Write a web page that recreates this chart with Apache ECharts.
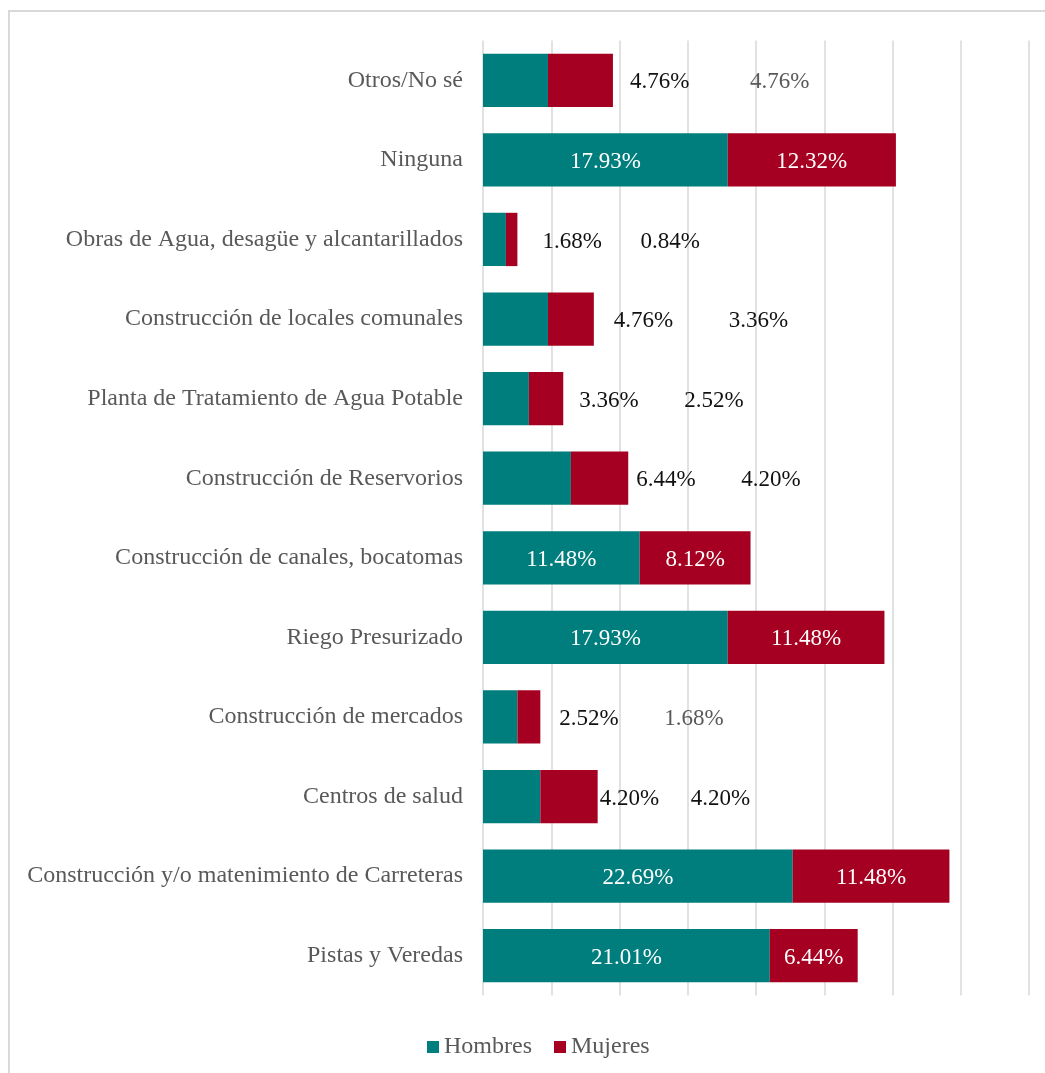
<!DOCTYPE html>
<html>
<head>
<meta charset="utf-8">
<title>Obras priorizadas por sexo</title>
<script src="https://cdn.jsdelivr.net/npm/echarts@6/dist/echarts.min.js"></script>
<style>
  html, body { margin: 0; padding: 0; background: #ffffff; }
  #chart { width: 1045px; height: 1073px; }
</style>
</head>
<body>
<div id="chart"></div>
<script>
// Categories, listed from top to bottom
const categories = [
  'Otros/No sé',
  'Ninguna',
  'Obras de Agua, desagüe y alcantarillados',
  'Construcción de locales comunales',
  'Planta de Tratamiento de Agua Potable',
  'Construcción de Reservorios',
  'Construcción de canales, bocatomas',
  'Riego Presurizado',
  'Construcción de mercados',
  'Centros de salud',
  'Construcción y/o matenimiento de Carreteras',
  'Pistas y Veredas'
];

// Percentages per group
const hombres = [4.76, 17.93, 1.68, 4.76, 3.36, 6.44, 11.48, 17.93, 2.52, 4.20, 22.69, 21.01];
const mujeres = [4.76, 12.32, 0.84, 3.36, 2.52, 4.20, 8.12, 11.48, 1.68, 4.20, 11.48, 6.44];

// Axis range (percent)
const axisMin = 0;
const axisMax = 40;
const axisStep = 5;

// Labels for short bars sit beyond the end of the stack:
// hGap = px from stack end to the Hombres label, mGap = px from stack end to the Mujeres label
const outsideLabels = {
  'Otros/No sé': { hGap: 17, mGap: 137, mTone: '#595959' },
  'Obras de Agua, desagüe y alcantarillados': { hGap: 25, mGap: 123 },
  'Construcción de locales comunales': { hGap: 20, mGap: 135 },
  'Planta de Tratamiento de Agua Potable': { hGap: 16, mGap: 121 },
  'Construcción de Reservorios': { hGap: 8, mGap: 113 },
  'Construcción de mercados': { hGap: 19, mGap: 124, mTone: '#595959' },
  'Centros de salud': { hGap: 2, mGap: 93 }
};

const FONT = '"Liberation Serif", "Times New Roman", serif';
const TEAL = '#007d7d';
const RED = '#a50021';
const GRID = { left: 483, right: 16, top: 40.5, bottom: 77.5 };
const TEXT_DROP = 2; // value text sits slightly below the bar centre

const chart = echarts.init(document.getElementById('chart'), null, { renderer: 'canvas' });
const pxPerUnit = (chart.getWidth() - GRID.left - GRID.right) / (axisMax - axisMin);

const fmt = p => p.value.toFixed(2) + '%';

function buildData(values, isMujeres) {
  return values.map((v, i) => {
    const o = outsideLabels[categories[i]];
    if (!o) {
      return { value: v, label: { position: 'inside', color: '#ffffff', offset: [0, TEXT_DROP] } };
    }
    const dx = isMujeres
      ? v * pxPerUnit + o.mGap
      : (hombres[i] + mujeres[i]) * pxPerUnit + o.hGap;
    return {
      value: v,
      label: {
        position: 'insideLeft',
        distance: 0,
        offset: [dx, TEXT_DROP],
        color: isMujeres ? (o.mTone || '#111111') : '#111111'
      }
    };
  });
}

const labelBase = {
  show: true,
  formatter: fmt,
  fontFamily: FONT,
  fontSize: 23
};

chart.setOption({
  animation: false,
  backgroundColor: '#ffffff',
  textStyle: { fontFamily: FONT },
  graphic: [{
    type: 'rect',
    silent: true,
    z: -10,
    shape: { x: 9, y: 11, width: 1200, height: 1200 },
    style: { fill: 'none', stroke: '#d9d9d9', lineWidth: 2 }
  }],
  grid: GRID,
  legend: {
    data: ['Hombres', 'Mujeres'],
    left: 422,
    top: 1029,
    icon: 'rect',
    itemWidth: 12,
    itemHeight: 12,
    itemGap: 22,
    textStyle: { fontFamily: FONT, fontSize: 24, color: '#595959', lineHeight: 26 }
  },
  xAxis: {
    type: 'value',
    min: axisMin,
    max: axisMax,
    interval: axisStep,
    axisLabel: { show: false },
    axisLine: { show: false },
    axisTick: { show: false },
    splitLine: { show: true, lineStyle: { color: '#d9d9d9', width: 1.5 } }
  },
  yAxis: {
    type: 'category',
    data: categories,
    inverse: true,
    axisLine: { show: false },
    axisTick: { show: false },
    axisLabel: {
      color: '#595959',
      fontFamily: FONT,
      fontSize: 24,
      margin: 20,
      padding: [5, 0, 0, 0]
    }
  },
  series: [
    {
      name: 'Hombres',
      type: 'bar',
      stack: 'total',
      barCategoryGap: '33%',
      itemStyle: { color: TEAL },
      label: labelBase,
      data: buildData(hombres, false)
    },
    {
      name: 'Mujeres',
      type: 'bar',
      stack: 'total',
      barCategoryGap: '33%',
      itemStyle: { color: RED },
      label: labelBase,
      data: buildData(mujeres, true)
    }
  ]
});
</script>
</body>
</html>
